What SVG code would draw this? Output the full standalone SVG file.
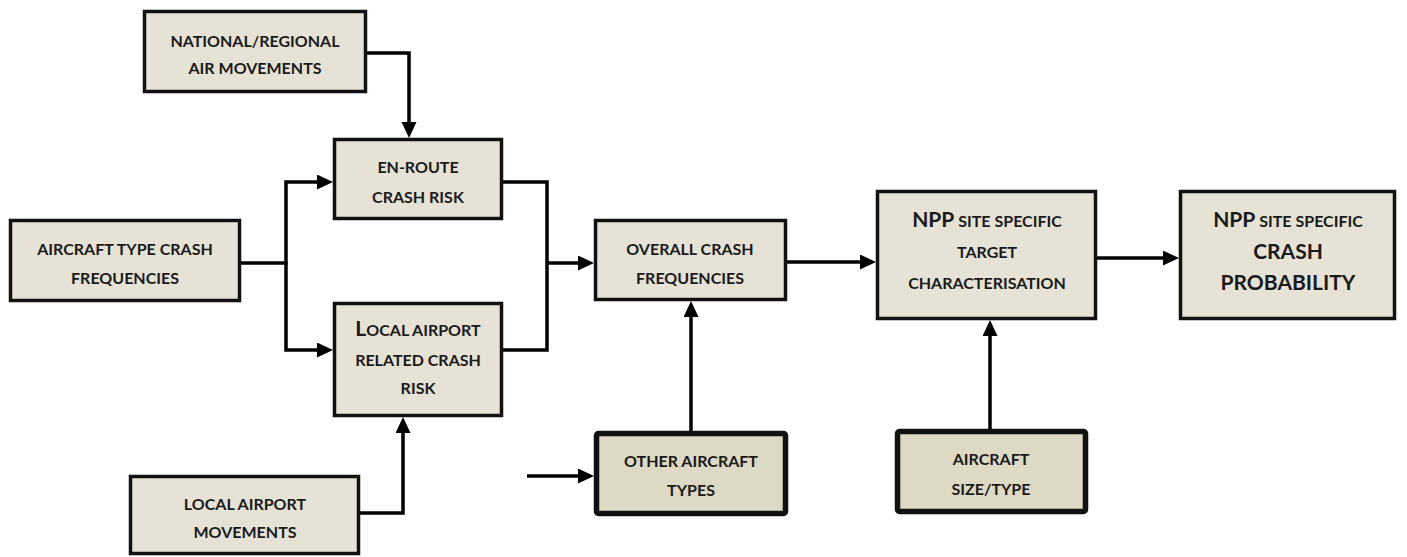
<svg xmlns="http://www.w3.org/2000/svg" width="1407" height="557" viewBox="0 0 1407 557">
  <style>
    .box { fill: #E6E2D6; stroke: #111; stroke-width: 3.5; }
    .thick { fill: #DDD9C4; stroke: #111; stroke-width: 5.5; }
    .t { font-family: Lato, "Open Sans", sans-serif; font-weight: bold; font-size: 16px; fill: #1a1a1a; text-anchor: middle; }
    .big { font-size: 21px; }
    .conn { fill: none; stroke: #000; stroke-width: 3.5; }
  </style>
  <defs>
    <marker id="arr" markerUnits="userSpaceOnUse" markerWidth="17" markerHeight="16" refX="12" refY="7.5" orient="auto">
      <path d="M0,0 L16,7.5 L0,15 z" fill="#000"/>
    </marker>
  </defs>
  <rect width="1407" height="557" fill="#fff"/>

  <g id="connectors">
    <path class="conn" d="M367,53 H409 V134" marker-end="url(#arr)"/>
    <path class="conn" d="M241,263 H286 V182 H329" marker-end="url(#arr)"/>
    <path class="conn" d="M286,262 V350 H329" marker-end="url(#arr)"/>
    <path class="conn" d="M503,182 H547 V350 H503"/>
    <path class="conn" d="M547,263 H590" marker-end="url(#arr)"/>
    <path class="conn" d="M787,262 H872" marker-end="url(#arr)"/>
    <path class="conn" d="M691,431 V305" marker-end="url(#arr)"/>
    <path class="conn" d="M527,476 H590" marker-end="url(#arr)"/>
    <path class="conn" d="M1097,258 H1175" marker-end="url(#arr)"/>
    <path class="conn" d="M990,429 V324" marker-end="url(#arr)"/>
    <path class="conn" d="M360,513 H403 V421" marker-end="url(#arr)"/>
  </g>

  <g id="national">
    <rect class="box" x="144.5" y="11.5" width="221" height="80"/>
    <text class="t" x="255" y="47">NATIONAL/REGIONAL</text>
    <text class="t" x="255" y="74">AIR MOVEMENTS</text>
  </g>
  <g id="enroute">
    <rect class="box" x="334.5" y="139.5" width="167" height="79"/>
    <text class="t" x="418" y="173">EN-ROUTE</text>
    <text class="t" x="418" y="203">CRASH RISK</text>
  </g>
  <g id="aircraft-type">
    <rect class="box" x="10.5" y="220.5" width="229" height="80"/>
    <text class="t" x="125" y="255">AIRCRAFT TYPE CRASH</text>
    <text class="t" x="125" y="284">FREQUENCIES</text>
  </g>
  <g id="local-related">
    <rect class="box" x="334.5" y="303.5" width="167" height="112"/>
    <text class="t" x="418" y="336"><tspan class="big">L</tspan>OCAL AIRPORT</text>
    <text class="t" x="418" y="366">RELATED CRASH</text>
    <text class="t" x="418" y="394">RISK</text>
  </g>
  <g id="local-movements">
    <rect class="box" x="130.5" y="476.5" width="228" height="77"/>
    <text class="t" x="245" y="510">LOCAL AIRPORT</text>
    <text class="t" x="245" y="538">MOVEMENTS</text>
  </g>
  <g id="overall">
    <rect class="box" x="595.5" y="220.5" width="190" height="79"/>
    <text class="t" x="690" y="255">OVERALL CRASH</text>
    <text class="t" x="690" y="284">FREQUENCIES</text>
  </g>
  <g id="other-types">
    <rect class="thick" x="596.5" y="433.5" width="189" height="80" rx="2"/>
    <text class="t" x="691" y="467">OTHER AIRCRAFT</text>
    <text class="t" x="691" y="496">TYPES</text>
  </g>
  <g id="npp-target">
    <rect class="box" x="877.5" y="191.5" width="218" height="127"/>
    <text class="t" x="987" y="227"><tspan class="big">NPP</tspan> SITE SPECIFIC</text>
    <text class="t" x="987" y="258">TARGET</text>
    <text class="t" x="987" y="289">CHARACTERISATION</text>
  </g>
  <g id="npp-probability">
    <rect class="box" x="1180.5" y="191.5" width="214" height="127"/>
    <text class="t" x="1288" y="227"><tspan class="big">NPP</tspan> SITE SPECIFIC</text>
    <text class="t big" x="1288" y="259">CRASH</text>
    <text class="t big" x="1288" y="290">PROBABILITY</text>
  </g>
  <g id="aircraft-size">
    <rect class="thick" x="897.5" y="431.5" width="188" height="80" rx="2"/>
    <text class="t" x="991" y="465">AIRCRAFT</text>
    <text class="t" x="991" y="495">SIZE/TYPE</text>
  </g>
</svg>
